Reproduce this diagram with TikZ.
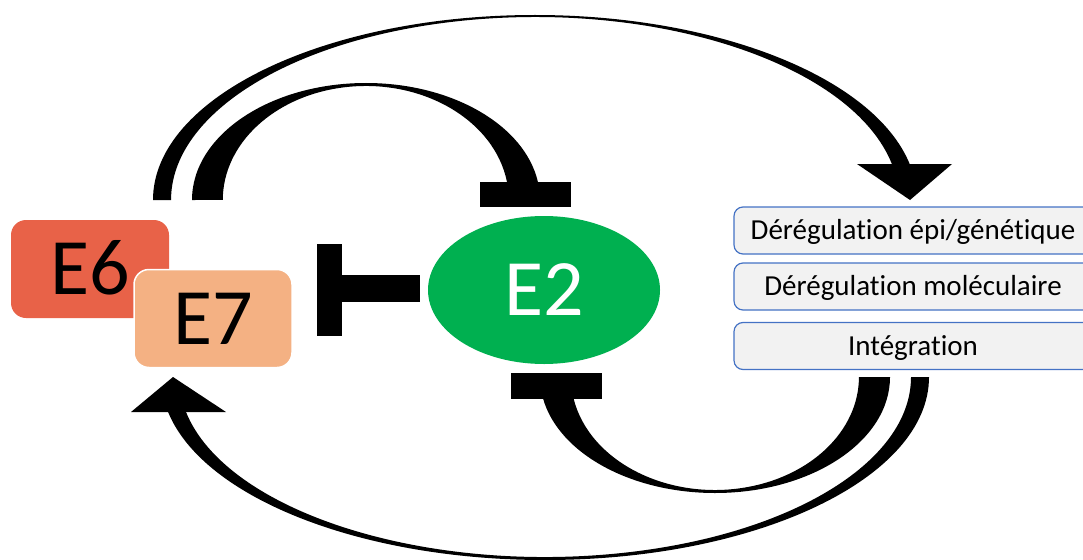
\documentclass[tikz,border=0pt]{standalone}
\usepackage{fontspec}
\setmainfont{Carlito}[Ligatures=NoCommon]
\usetikzlibrary{shapes.geometric}
\definecolor{esix}{HTML}{E86248}
\definecolor{eseven}{HTML}{F4B183}
\definecolor{etwo}{HTML}{00B050}
\definecolor{boxfill}{HTML}{F2F2F2}
\definecolor{boxline}{HTML}{4472C4}
\tikzset{
  protbox/.style={rounded corners=15pt, minimum width=158pt, minimum height=98pt, inner sep=0pt,
    font=\fontsize{80}{80}\selectfont, text height=51pt, text depth=0pt},
  effbox/.style={draw=boxline, line width=1.2pt, fill=boxfill, rounded corners=9pt,
    minimum width=358pt, minimum height=47pt, inner sep=0pt,
    font=\fontsize{29}{29}\selectfont, text height=18pt, text depth=0pt},
  blk/.style={fill=black, draw=none}
}
\begin{document}
\begin{tikzpicture}[x=1pt,y=-1pt]
\useasboundingbox (0,0) rectangle (1083,559);

% protein boxes
\node[protbox, fill=esix] (e6) at (90,269) {E6};
\node[protbox, fill=eseven, draw=white, line width=1.5pt] (e7) at (213,318.5) {E7};
\node[ellipse, fill=etwo, minimum width=232pt, minimum height=148pt, inner sep=0pt,
  font=\fontsize{80}{80}\selectfont, text height=51pt, text depth=0pt, text=white] (e2) at (544,290) {E2};

% effect boxes
\node[effbox] (epi) at (913,230.5) {Dérégulation épi/génétique};
\node[effbox] (mol) at (913,286.5) {Dérégulation moléculaire};
\node[effbox] (integ) at (913,346) {Intégration};

% big top arc E6/E7 -> effects
\fill[blk] (153,200) arc[start angle=180, end angle=348.8, x radius=382, y radius=185]
  -- (891.9,164) arc[start angle=348.65, end angle=180, x radius=364, y radius=183] -- cycle;
\fill[blk] (857,164) -- (952,164) -- (910,200) -- cycle;

% thick top inhibition arc E6/E7 -| E2
\fill[blk] (192,200) arc[start angle=180, end angle=351.15, x radius=174, y radius=117]
  -- (507,182) arc[start angle=350.92, end angle=180, x radius=143, y radius=114] -- cycle;
\fill[blk] (480,182) rectangle (571,207);

% left inhibition E2 -| E7
\fill[blk] (342,275) rectangle (420,302);
\fill[blk] (317,244) rectangle (342,336);

% thick bottom inhibition arc effects -| E2
\fill[blk] (890,377) arc[start angle=0, end angle=169.07, x radius=175, y radius=116]
  -- (573.7,399) arc[start angle=168.77, end angle=0, x radius=144, y radius=113] -- cycle;
\fill[blk] (511,373) rectangle (602,399);

% big bottom arc effects -> E7
\fill[blk] (929,377) arc[start angle=0, end angle=168.97, x radius=384, y radius=183]
  -- (186,412) arc[start angle=168.79, end angle=0, x radius=366, y radius=180] -- cycle;
\fill[blk] (131,412) -- (226,412) -- (173,377) -- cycle;
\end{tikzpicture}
\end{document}
